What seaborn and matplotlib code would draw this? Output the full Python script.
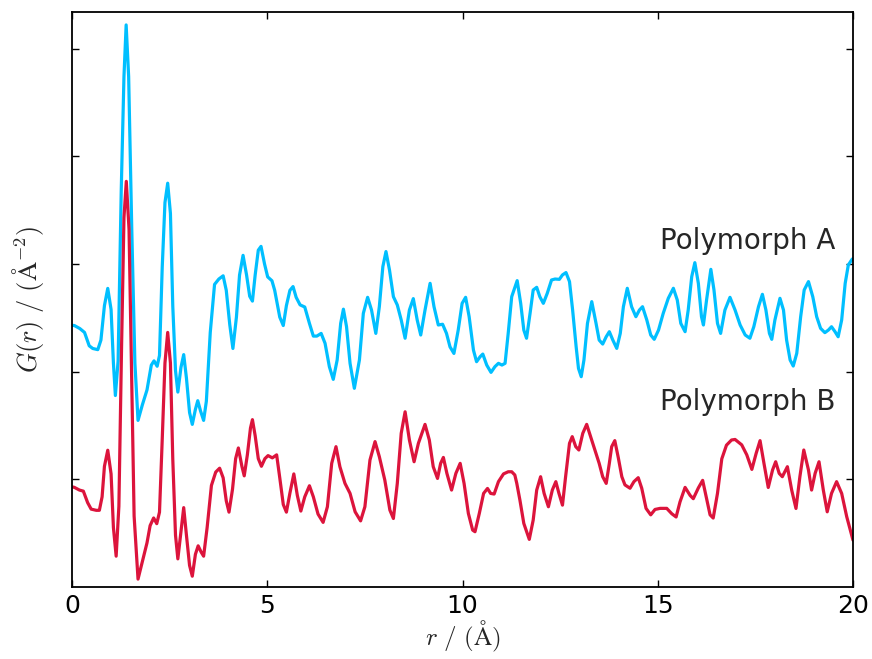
import matplotlib
matplotlib.use("Agg")
import matplotlib.pyplot as plt
import seaborn as sns

# G(r) of polymorph A (offset trace, upper curve)
r_a = [0.00, 0.06, 0.20, 0.32, 0.44, 0.53, 0.66, 0.74, 0.83, 0.915, 1.00, 1.06, 1.11, 1.18,
       1.26, 1.33, 1.386, 1.45, 1.53, 1.61, 1.69, 1.80, 1.92, 2.03, 2.10, 2.18, 2.24, 2.31,
       2.38, 2.45, 2.52, 2.58, 2.65, 2.71, 2.79, 2.86, 2.93, 3.01, 3.08, 3.16, 3.22, 3.29,
       3.37, 3.44, 3.54, 3.65, 3.76, 3.87, 3.95, 4.04, 4.12, 4.21, 4.29, 4.38, 4.47, 4.55,
       4.62, 4.69, 4.77, 4.84, 4.93, 5.01, 5.12, 5.19, 5.32, 5.41, 5.49, 5.58, 5.66, 5.74,
       5.84, 5.96, 6.08, 6.18, 6.27, 6.38, 6.48, 6.59, 6.69, 6.79, 6.88, 6.95, 7.03, 7.12,
       7.23, 7.36, 7.46, 7.57, 7.67, 7.78, 7.87, 7.96, 8.04, 8.13, 8.23, 8.33, 8.43, 8.53,
       8.64, 8.74, 8.84, 8.93, 9.04, 9.17, 9.27, 9.38, 9.49, 9.59, 9.68, 9.78, 9.89, 9.99,
       10.08, 10.17, 10.28, 10.36, 10.45, 10.52, 10.62, 10.73, 10.83, 10.92, 11.01, 11.09,
       11.17, 11.26, 11.40, 11.49, 11.57, 11.64, 11.73, 11.81, 11.90, 11.98, 12.07, 12.17,
       12.28, 12.37, 12.48, 12.56, 12.65, 12.74, 12.82, 12.91, 12.97, 13.04, 13.11, 13.20,
       13.31, 13.42, 13.50, 13.59, 13.68, 13.76, 13.85, 13.95, 14.04, 14.12, 14.22, 14.33,
       14.44, 14.53, 14.61, 14.72, 14.82, 14.91, 15.02, 15.14, 15.27, 15.40, 15.50, 15.59,
       15.70, 15.78, 15.87, 15.95, 16.04, 16.12, 16.17, 16.25, 16.36, 16.44, 16.53, 16.61,
       16.72, 16.85, 16.98, 17.11, 17.24, 17.36, 17.46, 17.58, 17.68, 17.77, 17.86, 17.92,
       18.00, 18.13, 18.22, 18.30, 18.39, 18.47, 18.56, 18.66, 18.75, 18.86, 18.97, 19.07,
       19.17, 19.28, 19.37, 19.45, 19.54, 19.62, 19.71, 19.80, 19.88, 19.97, 20.00]
g_a = [1.43, 1.428, 1.40, 1.364, 1.24, 1.215, 1.204, 1.293, 1.613, 1.773, 1.577, 1.08, 0.778, 1.10,
       2.68, 3.74, 4.22, 3.74, 2.32, 1.08, 0.547, 0.69, 0.83, 1.06, 1.10, 1.05, 1.15, 1.97,
       2.57, 2.75, 2.47, 1.61, 1.01, 0.81, 1.04, 1.158, 0.94, 0.62, 0.51, 0.65, 0.73, 0.636,
       0.547, 0.725, 1.364, 1.81, 1.86, 1.89, 1.755, 1.435, 1.215, 1.506, 1.897, 2.08, 1.897, 1.70,
       1.655, 1.897, 2.128, 2.163, 2.00, 1.88, 1.844, 1.755, 1.506, 1.428, 1.613, 1.755, 1.79, 1.69,
       1.62, 1.60, 1.448, 1.33, 1.33, 1.355, 1.263, 1.046, 0.928, 1.108, 1.448, 1.58, 1.417, 1.077,
       0.845, 1.108, 1.541, 1.69, 1.572, 1.355, 1.603, 1.975, 2.115, 1.944, 1.696, 1.619, 1.48, 1.31,
       1.572, 1.678, 1.479, 1.34, 1.572, 1.82, 1.603, 1.433, 1.44, 1.355, 1.23, 1.169, 1.386, 1.634,
       1.69, 1.51, 1.20, 1.092, 1.138, 1.163, 1.061, 0.993, 1.046, 1.077, 1.061, 1.077,
       1.355, 1.696, 1.845, 1.634, 1.386, 1.31, 1.541, 1.758, 1.783, 1.696, 1.634, 1.727,
       1.851, 1.86, 1.857, 1.898, 1.92, 1.836, 1.572, 1.231, 1.03, 0.953, 1.108, 1.448,
       1.65, 1.448, 1.293, 1.256, 1.324, 1.371, 1.293, 1.216, 1.355, 1.603, 1.774, 1.603,
       1.51, 1.572, 1.603, 1.479, 1.34, 1.30, 1.386, 1.541, 1.681, 1.774, 1.665, 1.448,
       1.371, 1.572, 1.882, 2.012, 1.82, 1.51, 1.433, 1.665, 1.95, 1.758, 1.448, 1.355,
       1.572, 1.69, 1.572, 1.433, 1.34, 1.31, 1.417, 1.603, 1.718, 1.572, 1.355, 1.30,
       1.479, 1.681, 1.572, 1.293, 1.108, 1.052, 1.17, 1.51, 1.758, 1.836, 1.696, 1.51,
       1.402, 1.362, 1.386, 1.417, 1.371, 1.324, 1.479, 1.82, 1.99, 2.04, 2.05]

# G(r) of polymorph B (lower curve)
r_b = [0.00, 0.06, 0.19, 0.29, 0.40, 0.49, 0.62, 0.70, 0.77, 0.83, 0.915, 1.00, 1.06, 1.13,
       1.20, 1.27, 1.33, 1.39, 1.46, 1.52, 1.59, 1.69, 1.80, 1.92, 2.00, 2.09, 2.17, 2.24,
       2.31, 2.38, 2.45, 2.52, 2.58, 2.65, 2.71, 2.79, 2.86, 2.93, 3.01, 3.08, 3.16, 3.23,
       3.31, 3.37, 3.46, 3.57, 3.68, 3.78, 3.87, 3.95, 4.02, 4.11, 4.19, 4.26, 4.35, 4.41,
       4.49, 4.57, 4.62, 4.69, 4.77, 4.85, 4.94, 5.02, 5.13, 5.24, 5.32, 5.41, 5.49, 5.58,
       5.68, 5.77, 5.86, 5.96, 6.08, 6.18, 6.30, 6.43, 6.54, 6.65, 6.76, 6.86, 6.99, 7.12,
       7.25, 7.39, 7.50, 7.63, 7.76, 7.87, 8.01, 8.14, 8.23, 8.33, 8.43, 8.53, 8.64, 8.76,
       8.87, 9.04, 9.15, 9.25, 9.36, 9.44, 9.51, 9.60, 9.72, 9.83, 9.94, 10.04, 10.15, 10.26,
       10.32, 10.43, 10.54, 10.64, 10.72, 10.81, 10.92, 11.05, 11.17, 11.26, 11.34, 11.39,
       11.47, 11.57, 11.71, 11.81, 11.90, 12.00, 12.09, 12.20, 12.30, 12.39, 12.47, 12.56,
       12.64, 12.74, 12.81, 12.90, 12.98, 13.08, 13.18, 13.28, 13.39, 13.50, 13.59, 13.68,
       13.76, 13.82, 13.90, 13.99, 14.08, 14.16, 14.29, 14.39, 14.50, 14.59, 14.70, 14.82,
       14.93, 15.06, 15.23, 15.36, 15.47, 15.57, 15.70, 15.83, 15.91, 16.04, 16.15, 16.27,
       16.34, 16.42, 16.53, 16.64, 16.76, 16.89, 16.98, 17.15, 17.28, 17.41, 17.52, 17.62,
       17.72, 17.83, 17.94, 18.02, 18.11, 18.19, 18.32, 18.43, 18.54, 18.64, 18.74, 18.86,
       18.94, 19.03, 19.13, 19.24, 19.34, 19.45, 19.58, 19.71, 19.84, 20.00]
g_b = [-0.07, -0.075, -0.10, -0.11, -0.217, -0.277, -0.288, -0.288, -0.163, 0.121, 0.27, 0.05, -0.448, -0.714,
       -0.25, 1.258, 2.43, 2.767, 2.32, 1.08, -0.341, -0.927, -0.767, -0.59, -0.43, -0.359, -0.412, -0.305,
       0.37, 1.08, 1.364, 1.08, 0.19, -0.519, -0.739, -0.483, -0.263, -0.519, -0.80, -0.90, -0.696, -0.618,
       -0.678, -0.714, -0.448, -0.057, 0.067, 0.103, 0.014, -0.20, -0.305, -0.092, 0.192, 0.291, 0.121, 0.032,
       0.227, 0.476, 0.554, 0.405, 0.192, 0.121, 0.192, 0.22, 0.199, 0.227, 0.014, -0.234, -0.305, -0.128,
       0.05, -0.15, -0.295, -0.163, -0.06, -0.163, -0.323, -0.40, -0.255, 0.148, 0.303, 0.117, -0.038, -0.131,
       -0.302, -0.386, -0.255, 0.179, 0.35, 0.21, -0.007, -0.286, -0.364, -0.038, 0.427, 0.627, 0.365, 0.163,
       0.334, 0.51, 0.365, 0.117, 0.008, 0.148, 0.203, 0.055, -0.10, 0.055, 0.148, -0.038, -0.317, -0.472,
       -0.487, -0.317, -0.131, -0.085, -0.131, -0.137, -0.022, 0.05, 0.07, 0.07, 0.04, -0.038,
       -0.193, -0.41, -0.558, -0.379, -0.10, 0.024, -0.131, -0.255, -0.10, -0.022, -0.131, -0.24,
       0.024, 0.334, 0.396, 0.303, 0.272, 0.427, 0.51, 0.396, 0.272, 0.148, 0.024, -0.038,
       0.148, 0.303, 0.359, 0.20, 0.024, -0.052, -0.083, -0.022, 0.015, -0.083, -0.27, -0.33,
       -0.28, -0.27, -0.27, -0.32, -0.35, -0.21, -0.075, -0.15, -0.18, -0.08, -0.01, -0.21,
       -0.33, -0.36, -0.13, 0.19, 0.317, 0.365, 0.37, 0.32, 0.227, 0.092, 0.241, 0.359,
       0.148, -0.076, 0.086, 0.163, 0.055, 0.024, 0.117, -0.10, -0.271, 0.024, 0.272, 0.086,
       -0.10, 0.055, 0.163, -0.10, -0.302, -0.131, -0.022, -0.131, -0.348, -0.565]

x_ticks = [0, 5, 10, 15, 20]
y_ticks = [0, 1, 2, 3, 4]
labels = ["Polymorph A", "Polymorph B"]
colors = ["#00BFFF", "#DC143C"]

sns.set_style("ticks")
plt.rcParams["font.family"] = ["DejaVu Sans"]
plt.rcParams["mathtext.fontset"] = "cm"

fig = plt.figure(figsize=(8.72, 6.59), dpi=100)
ax = fig.add_axes([0.0826, 0.1093, 0.8956, 0.8725])

sns.lineplot(x=r_a, y=g_a, color=colors[0], lw=2.3, ax=ax, sort=False, estimator=None)
sns.lineplot(x=r_b, y=g_b, color=colors[1], lw=2.3, ax=ax, sort=False, estimator=None)

ax.set_xlim(0, 20)
ax.set_ylim(-1.0, 4.34)
ax.set_xticks(x_ticks)
ax.set_yticks(y_ticks)
ax.set_yticklabels([])
ax.tick_params(direction="in", top=True, right=True, length=5, width=1, labelsize=18,
               colors="black", pad=5)
for s in ax.spines.values():
    s.set_linewidth(1.3)
    s.set_color("black")

ax.set_xlabel(r"$r\ /\ (\mathrm{\AA})$", fontsize=18, labelpad=1)
ax.set_ylabel(r"$G(r)\ /\ (\mathrm{\AA}^{-2})$", fontsize=19, labelpad=14)

ax.text(19.54, 2.14, labels[0], ha="right", va="baseline", fontsize=20)
ax.text(19.54, 0.64, labels[1], ha="right", va="baseline", fontsize=20)

fig.savefig("out.png", dpi=100)
plt.close(fig)
